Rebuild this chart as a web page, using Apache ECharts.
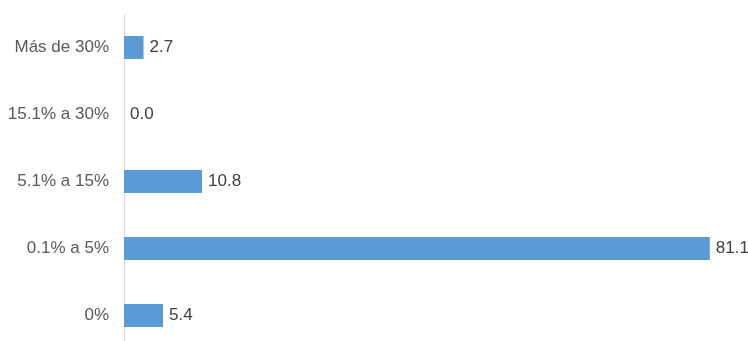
<!DOCTYPE html>
<html>
<head>
<meta charset="utf-8">
<script src="https://cdn.jsdelivr.net/npm/echarts@6/dist/echarts.min.js"></script>
<style>
  html, body { margin: 0; padding: 0; background: #ffffff; }
  #chart { width: 748px; height: 341px; }
</style>
</head>
<body>
<div id="chart"></div>
<script>
// Ranges, listed bottom to top on the category axis
const categories = ['0%', '0.1% a 5%', '5.1% a 15%', '15.1% a 30%', 'Más de 30%'];
const values = [5.4, 81.1, 10.8, 0.0, 2.7];

const chart = echarts.init(document.getElementById('chart'));
chart.setOption({
  animation: false,
  grid: {
    left: 124, top: 14, width: 614, height: 335,
    containLabel: false,
    outerBoundsMode: 'none'
  },
  xAxis: {
    type: 'value',
    min: 0,
    max: 85,
    show: false
  },
  yAxis: {
    type: 'category',
    data: categories,
    axisLine: { show: true, lineStyle: { color: '#d9d9d9', width: 1 } },
    axisTick: { show: false },
    axisLabel: {
      color: '#595959',
      fontFamily: 'Liberation Sans, Arial, sans-serif',
      fontSize: 17,
      margin: 15
    },
    splitLine: { show: false }
  },
  series: [{
    type: 'bar',
    data: values,
    barWidth: 23,
    itemStyle: { color: '#5b9bd5' },
    label: {
      show: true,
      position: 'right',
      distance: 6,
      color: '#404040',
      fontFamily: 'Liberation Sans, Arial, sans-serif',
      fontSize: 17,
      formatter: p => p.value.toFixed(1)
    }
  }]
});
</script>
</body>
</html>
